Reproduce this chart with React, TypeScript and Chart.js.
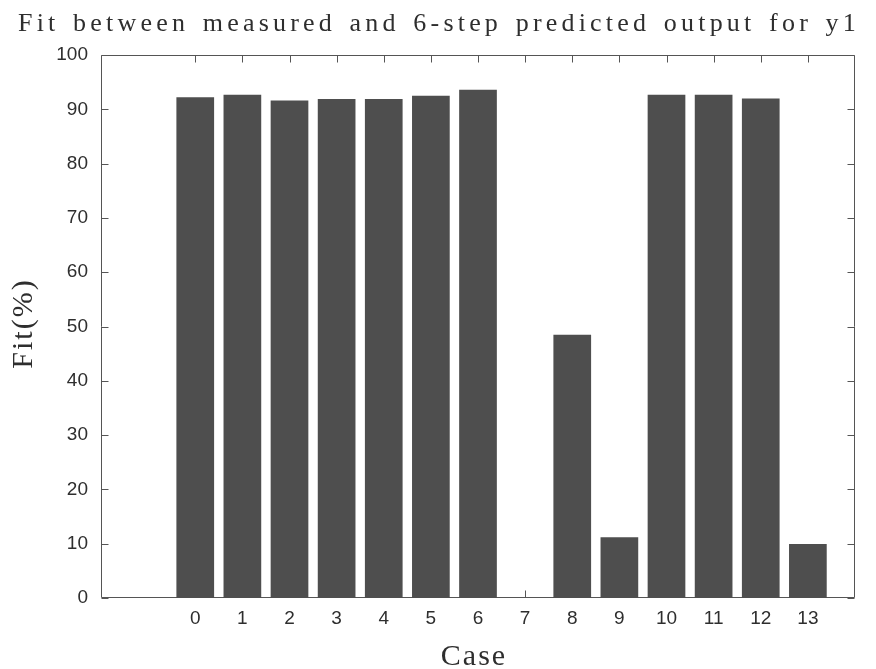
import React, { useEffect, useRef } from "react";
import { Chart, registerables } from "chart.js";

Chart.register(...registerables);

const CASES = [0, 1, 2, 3, 4, 5, 6, 7, 8, 9, 10, 11, 12, 13];
const FIT_VALUES: (number | null)[] = [92.2, 92.7, 91.6, 91.9, 91.9, 92.5, 93.6, null, 48.5, 11.2, 92.7, 92.7, 92.0, 9.95];
const Y_TICKS = [0, 10, 20, 30, 40, 50, 60, 70, 80, 90, 100];
const TITLE = "Fit between measured and 6-step predicted output for y1";
const X_LABEL = "Case";
const Y_LABEL = "Fit(%)";

const BAR_COLOR = "#4e4e4e";
const AXIS_COLOR = "#555555";
const TEXT_COLOR = "#2e2e2e";
const SERIF = '"Liberation Serif", "Times New Roman", serif';
const SANS = '"Liberation Sans", Arial, sans-serif';

const framePlugin = {
  id: "matlabFrame",
  beforeDatasetsDraw(chart: any) {
    const { ctx, chartArea, scales } = chart;
    const { left, right, top, bottom } = chartArea;
    const x = scales.x;
    const y = scales.y;
    const tl = 7;
    ctx.save();
    ctx.strokeStyle = AXIS_COLOR;
    ctx.lineWidth = 1;
    const l = Math.round(left) + 0.5;
    const r = Math.round(right) - 0.5;
    const t = Math.round(top) + 0.5;
    const b = Math.round(bottom) - 0.5;
    ctx.beginPath();
    ctx.rect(l, t, r - l, b - t);
    for (const v of CASES) {
      const px = Math.round(x.getPixelForValue(v)) + 0.5;
      ctx.moveTo(px, b);
      ctx.lineTo(px, b - tl);
      ctx.moveTo(px, t);
      ctx.lineTo(px, t + tl);
    }
    for (const v of Y_TICKS) {
      const py = Math.round(y.getPixelForValue(v)) + 0.5;
      ctx.moveTo(l, py);
      ctx.lineTo(l + tl, py);
      ctx.moveTo(r, py);
      ctx.lineTo(r - tl, py);
    }
    ctx.stroke();
    ctx.restore();
  },
  afterDraw(chart: any) {
    const { ctx, chartArea, width } = chart;
    const { left, right, top, bottom } = chartArea;
    ctx.save();
    ctx.fillStyle = TEXT_COLOR;
    // Title: letter-spaced, word gaps adjusted so it spans the target width
    const target = 842;
    ctx.font = `26px ${SERIF}`;
    (ctx as any).letterSpacing = "4.2px";
    (ctx as any).wordSpacing = "0px";
    const w0 = ctx.measureText(TITLE).width;
    const gaps = TITLE.split(" ").length - 1;
    const ws = (target - w0) / gaps;
    (ctx as any).wordSpacing = `${ws}px`;
    ctx.textAlign = "left";
    ctx.textBaseline = "alphabetic";
    ctx.fillText(TITLE, width / 2 + 1 - target / 2, 31);
    (ctx as any).wordSpacing = "0px";
    // X label
    ctx.font = `30px ${SERIF}`;
    (ctx as any).letterSpacing = "2px";
    ctx.textAlign = "center";
    ctx.fillText(X_LABEL, (left + right) / 2 - 4, bottom + 67);
    // Y label
    ctx.save();
    ctx.translate(32, (top + bottom) / 2 - 3);
    ctx.rotate(-Math.PI / 2);
    ctx.textAlign = "center";
    ctx.fillText(Y_LABEL, 0, 0);
    ctx.restore();
    ctx.restore();
  },
};

export default function App() {
  const canvasRef = useRef<HTMLCanvasElement | null>(null);

  useEffect(() => {
    if (!canvasRef.current) return;
    const data = CASES.map((c, i) => ({ x: c, y: FIT_VALUES[i] }));
    const chart = new Chart(canvasRef.current, {
      type: "bar",
      data: {
        datasets: [
          {
            data: data as any,
            backgroundColor: BAR_COLOR,
            borderWidth: 0,
            barPercentage: 0.8,
            categoryPercentage: 1,
          },
        ],
      },
      options: {
        animation: false,
        responsive: true,
        maintainAspectRatio: false,
        layout: { padding: { top: 55, right: 21, left: 0, bottom: 0 } },
        plugins: { legend: { display: false }, title: { display: false }, tooltip: { enabled: false } },
        scales: {
          x: {
            type: "linear",
            min: -2,
            max: 14,
            offset: false,
            grid: { display: false, drawTicks: false },
            border: { display: false },
            afterBuildTicks: (scale: any) => {
              scale.ticks = CASES.map((v) => ({ value: v }));
            },
            afterFit: (scale: any) => {
              scale.height = 71;
            },
            ticks: {
              autoSkip: false,
              maxRotation: 0,
              padding: 9,
              color: TEXT_COLOR,
              font: { family: SANS, size: 19 },
              callback: (v: any) => String(v),
            },
          },
          y: {
            type: "linear",
            min: 0,
            max: 100,
            grid: { display: false, drawTicks: false },
            border: { display: false },
            afterBuildTicks: (scale: any) => {
              scale.ticks = Y_TICKS.map((v) => ({ value: v }));
            },
            afterFit: (scale: any) => {
              scale.width = 101;
            },
            ticks: {
              padding: 13,
              color: TEXT_COLOR,
              font: { family: SANS, size: 19 },
              callback: (v: any) => String(v),
            },
          },
        },
      },
      plugins: [framePlugin],
    });
    return () => chart.destroy();
  }, []);

  return (
    <div style={{ position: "fixed", left: 0, top: 0, width: 876, height: 669, background: "#fff" }}>
      <canvas ref={canvasRef} />
    </div>
  );
}
